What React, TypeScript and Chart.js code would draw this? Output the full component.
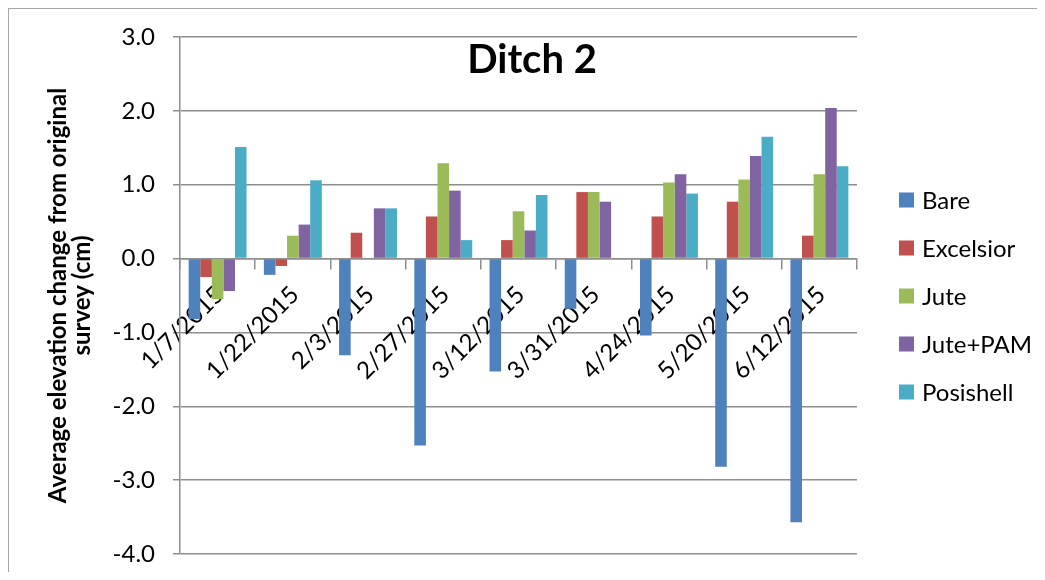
import React, { useEffect, useRef } from "react";
import { Chart, registerables } from "chart.js";

Chart.register(...registerables);

// Survey dates
const dates = [
  "1/7/2015",
  "1/22/2015",
  "2/3/2015",
  "2/27/2015",
  "3/12/2015",
  "3/31/2015",
  "4/24/2015",
  "5/20/2015",
  "6/12/2015",
];

// Average elevation change (cm) per treatment
const bare = [-0.82, -0.22, -1.31, -2.53, -1.53, -0.68, -1.04, -2.82, -3.57];
const excelsior = [-0.25, -0.1, 0.35, 0.57, 0.25, 0.9, 0.57, 0.77, 0.31];
const jute = [-0.55, 0.31, null, 1.29, 0.64, 0.9, 1.03, 1.07, 1.14];
const jutePam = [-0.44, 0.46, 0.68, 0.92, 0.38, 0.77, 1.14, 1.39, 2.04];
const posishell = [1.51, 1.06, 0.68, 0.25, 0.86, null, 0.88, 1.65, 1.25];

const seriesNames = ["Bare", "Excelsior", "Jute", "Jute+PAM", "Posishell"];
const seriesColors = ["#4F81BD", "#C0504D", "#9BBB59", "#8064A2", "#4BACC6"];

const yTicks = [3, 2, 1, 0, -1, -2, -3, -4];

const chartTitle = "Ditch 2";
const yTitle = ["Average elevation change from original", "survey (cm)"];

const FONT = "Lato, 'DejaVu Sans', sans-serif";
const GRID = "#8e8e8e";

const W = 1028;
const H = 563;

// Title drawn inside the plot area and legend drawn to its right
const overlayPlugin = {
  id: "ditchOverlay",
  afterDraw(chart: any) {
    const { ctx } = chart;
    ctx.save();
    ctx.fillStyle = "#000";
    ctx.font = `bold 40px ${FONT}`;
    ctx.textAlign = "center";
    ctx.textBaseline = "alphabetic";
    ctx.fillText(chartTitle, 523, 64);

    ctx.font = `24px ${FONT}`;
    ctx.textAlign = "left";
    ctx.textBaseline = "middle";
    chart.data.datasets.forEach((ds: any, i: number) => {
      const cy = 191 + i * 48;
      ctx.fillStyle = ds.backgroundColor;
      ctx.fillRect(890, cy - 7.5, 15, 15);
      ctx.fillStyle = "#000";
      ctx.fillText(ds.label, 913, cy + 1);
    });
    ctx.restore();
  },
};

export default function App() {
  const canvasRef = useRef<HTMLCanvasElement | null>(null);

  useEffect(() => {
    const canvas = canvasRef.current;
    if (!canvas) return;
    const values = [bare, excelsior, jute, jutePam, posishell];
    const chart = new Chart(canvas, {
      type: "bar",
      data: {
        labels: dates,
        datasets: values.map((v, i) => ({
          label: seriesNames[i],
          data: v,
          backgroundColor: seriesColors[i],
          borderWidth: 0,
          categoryPercentage: 0.77,
          barPercentage: 1.0,
        })),
      },
      options: {
        responsive: false,
        animation: false,
        devicePixelRatio: 1,
        layout: { padding: { left: 0, right: W - 848, top: 28, bottom: 18 } },
        plugins: {
          legend: { display: false },
          title: { display: false },
          tooltip: { enabled: false },
        },
        scales: {
          x: {
            position: { y: 0 } as any,
            afterFit: (s: any) => {
              s.height = 0;
            },
            grid: {
              offset: true,
              drawOnChartArea: false,
              drawTicks: true,
              tickLength: 10,
              color: GRID,
              lineWidth: 1.5,
            },
            border: { color: GRID, width: 1.5 },
            ticks: {
              autoSkip: false,
              maxRotation: 45,
              minRotation: 45,
              padding: 12,
              labelOffset: 2,
              color: "#000",
              font: { family: FONT, size: 24 },
            },
          },
          y: {
            min: -4,
            max: 3,
            afterFit: (s: any) => {
              s.width = 171;
              s.paddingTop = 0;
              s.paddingBottom = 0;
            },
            afterBuildTicks: (s: any) => {
              s.ticks = yTicks.map((v) => ({ value: v }));
            },
            grid: {
              color: GRID,
              lineWidth: 1.5,
              tickLength: 7,
            },
            border: { color: GRID, width: 1.5 },
            ticks: {
              padding: 18,
              color: "#000",
              font: { family: FONT, size: 24 },
              callback: (v: any) => Number(v).toFixed(1),
            },
            title: {
              display: true,
              text: yTitle,
              color: "#000",
              font: { family: FONT, size: 24, weight: "bold", lineHeight: 1.0 },
              padding: { top: 37, bottom: 0 },
            },
          },
        },
      },
      plugins: [overlayPlugin],
    });
    return () => chart.destroy();
  }, []);

  return (
    <div
      style={{
        borderTop: "1px solid #a6a6a6",
        borderLeft: "1px solid #a6a6a6",
        width: W,
        height: H,
        background: "#fff",
      }}
    >
      <canvas ref={canvasRef} width={W} height={H} style={{ display: "block" }} />
    </div>
  );
}
